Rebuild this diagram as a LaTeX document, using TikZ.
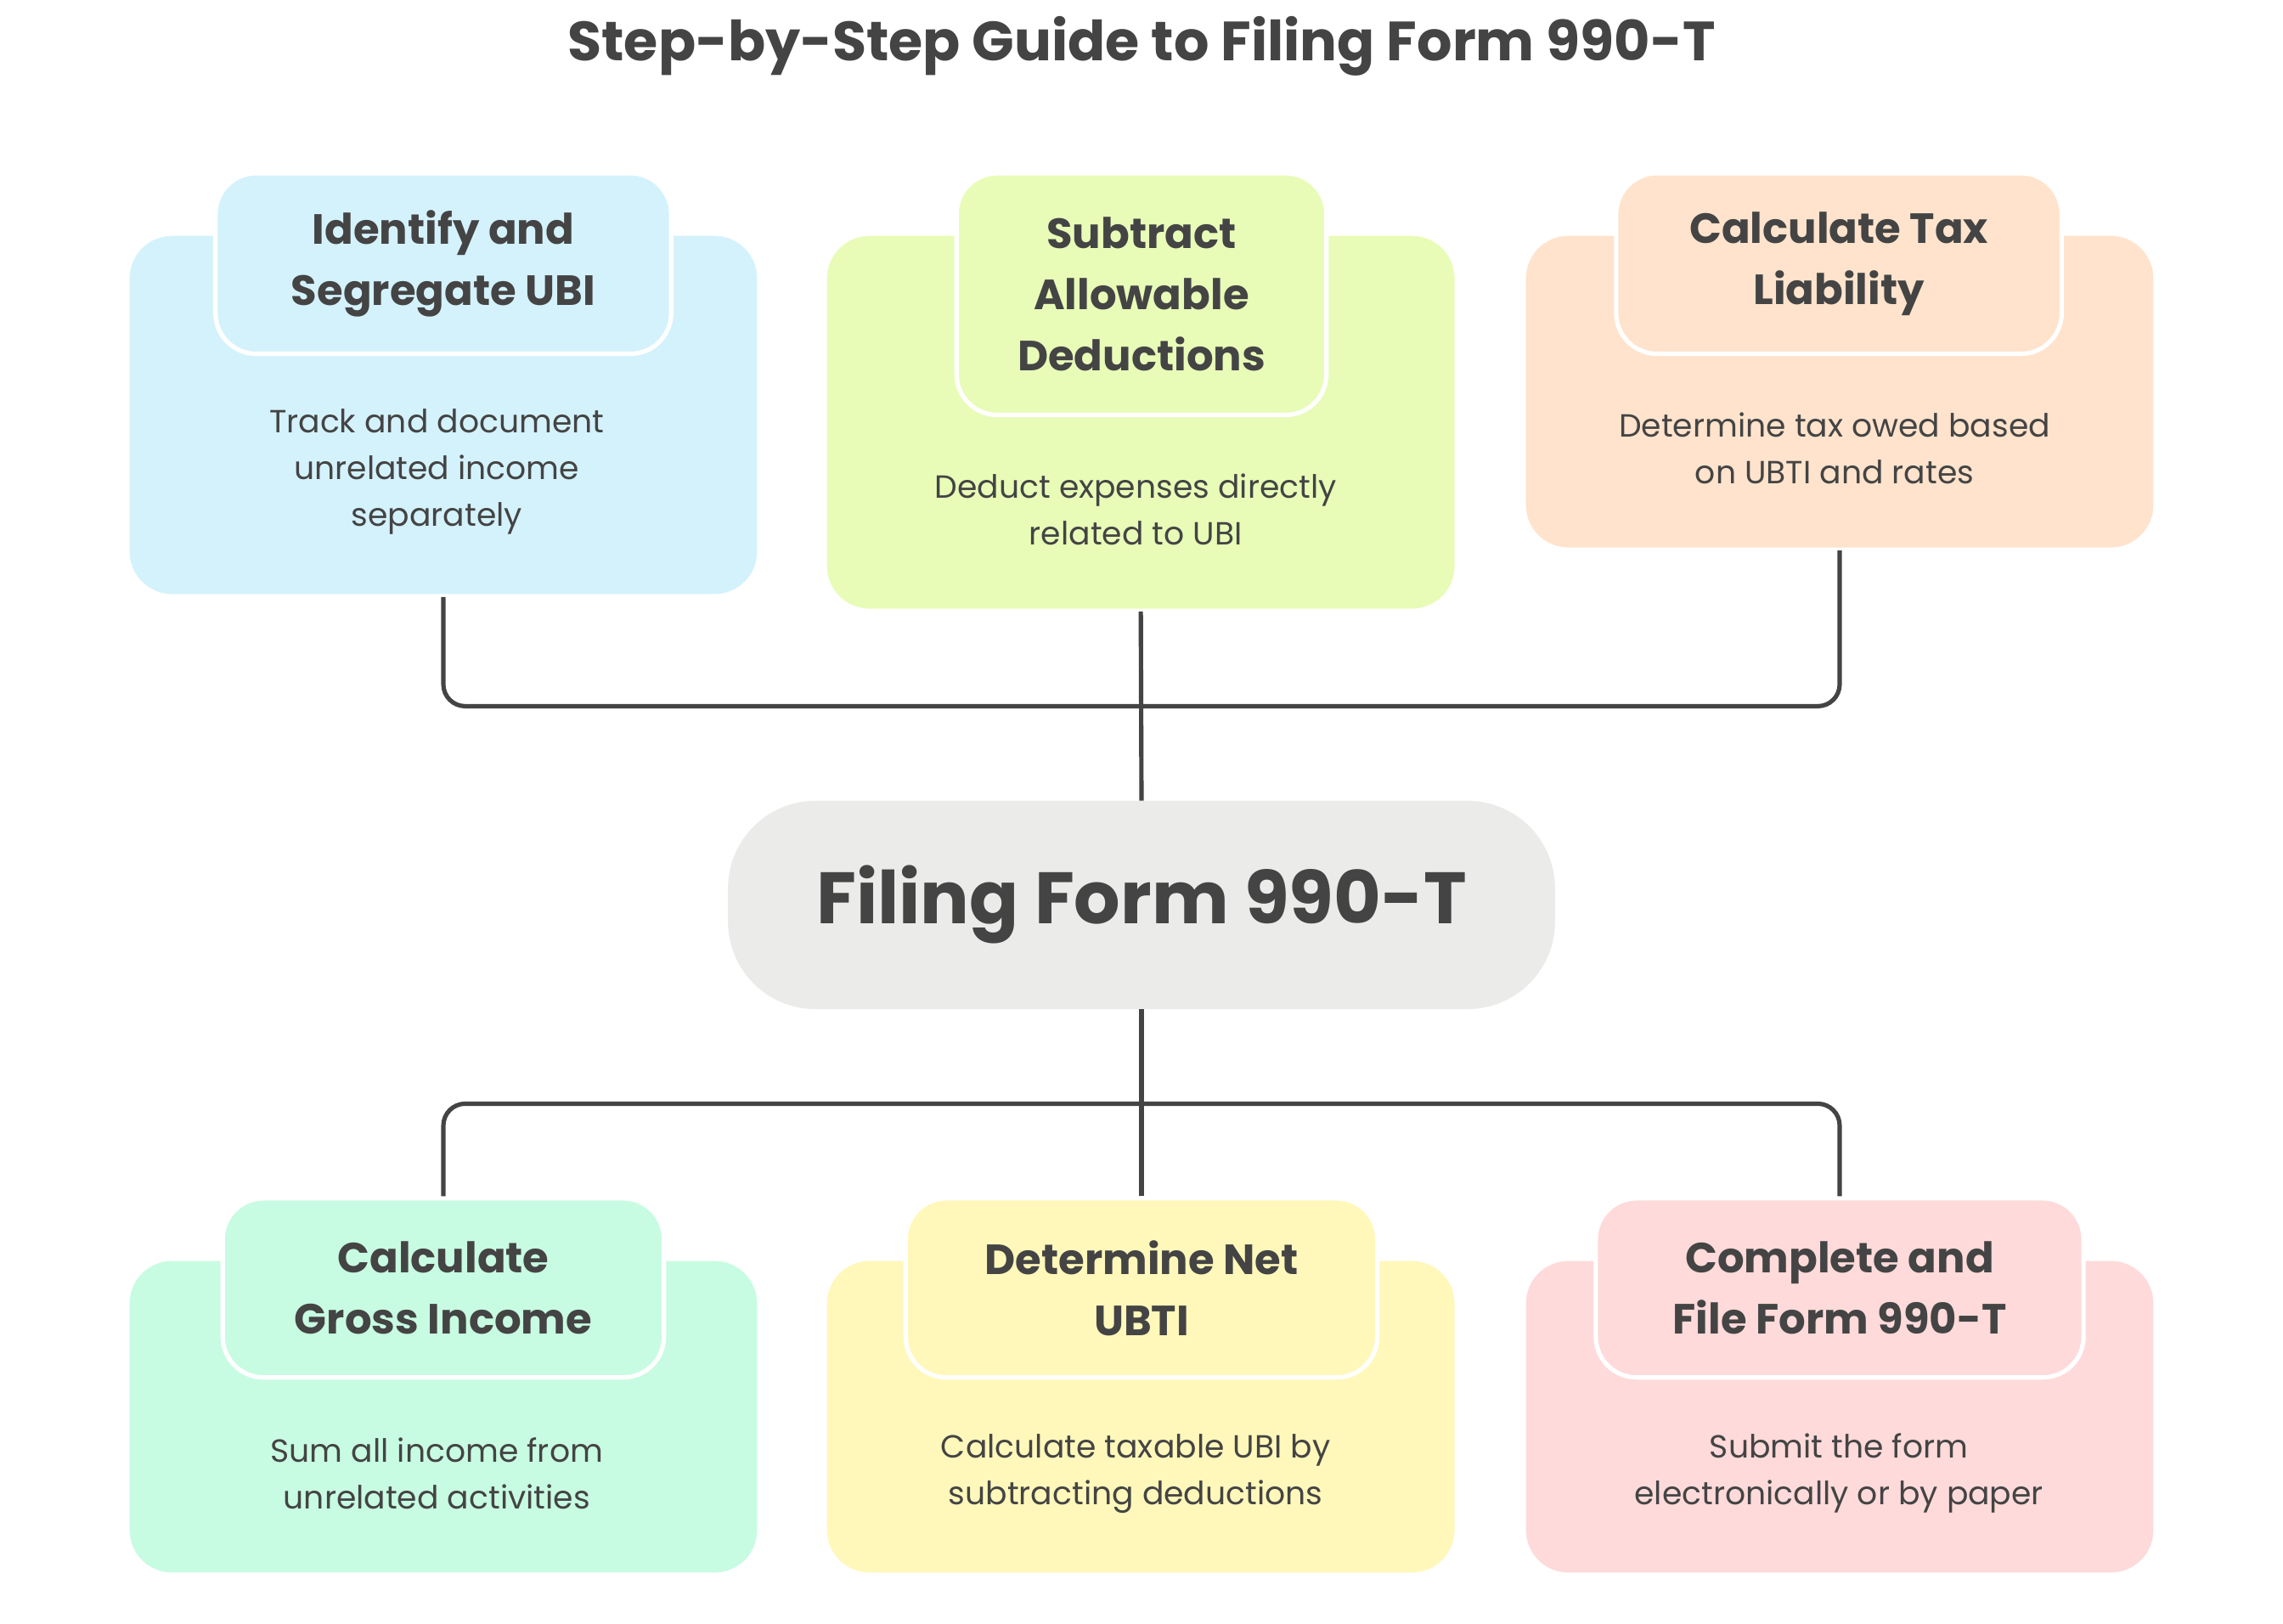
\documentclass[tikz,border=0pt]{standalone}
\usepackage{fontspec}
\setmainfont{Poppins}
\begin{document}
\begin{tikzpicture}[x=1pt,y=-1pt,
  box/.style={rounded corners=30pt,draw=white,line width=2pt,inner sep=0pt},
  tab/.style={rounded corners=28pt,draw=white,line width=3pt,align=center,text=txt,font=\fontsize{29}{42}\selectfont\bfseries,inner sep=0pt},
  body/.style={align=center,text=txt,font=\fontsize{22}{32}\selectfont},
  conn/.style={draw=txt,line width=3pt,rounded corners=15pt}]
\definecolor{txt}{HTML}{444444}
\definecolor{c1}{HTML}{D4F2FC}\definecolor{c2}{HTML}{E8FCB8}\definecolor{c3}{HTML}{FFE3CC}
\definecolor{c4}{HTML}{C8FCE2}\definecolor{c5}{HTML}{FFF8BA}\definecolor{c6}{HTML}{FFDADA}
\definecolor{cc}{HTML}{EBEBEA}
\useasboundingbox[fill=white] (0,0) rectangle (1568,1115);
\node[text=txt,font=\fontsize{38}{44}\selectfont\bfseries] (title) at (784,32) {Step-by-Step Guide to Filing Form 990-T};
% top
\node[box,fill=c1,minimum width=433pt,minimum height=248pt] (b1) at (304.5,285) {};
\node[tab,fill=c1,minimum width=313pt,minimum height=124pt] (t1) at (304.5,181) {Identify and\\Segregate UBI};
\node[body] (d1) at (300,324) {Track and document\\unrelated income\\separately};
\node[box,fill=c2,minimum width=433pt,minimum height=258pt] (b2) at (783.5,290) {};
\node[tab,fill=c2,minimum width=254pt,minimum height=166pt] (t2) at (784,202) {Subtract\\Allowable\\Deductions};
\node[body] (d2) at (780,350) {Deduct expenses directly\\related to UBI};
\node[box,fill=c3,minimum width=433pt,minimum height=216pt] (b3) at (1263.5,269) {};
\node[tab,fill=c3,minimum width=306pt,minimum height=124pt] (t3) at (1263,181) {Calculate Tax\\Liability};
\node[body] (d3) at (1260,308) {Determine tax owed based\\on UBTI and rates};
% center
\node[rounded corners=60pt,fill=cc,minimum width=568pt,minimum height=143pt,text=txt,font=\fontsize{50}{56}\selectfont\bfseries] (c) at (784,621.5) {Filing Form 990-T};
% bottom
\node[box,fill=c4,minimum width=433pt,minimum height=216pt] (b4) at (304.5,973) {};
\node[tab,fill=c4,minimum width=303pt,minimum height=123pt] (t4) at (304.5,884.5) {Calculate\\Gross Income};
\node[body] (d4) at (300,1012) {Sum all income from\\unrelated activities};
\node[box,fill=c5,minimum width=433pt,minimum height=216pt] (b5) at (783.5,973) {};
\node[tab,fill=c5,minimum width=324pt,minimum height=123pt] (t5) at (784,884.5) {Determine Net\\UBTI};
\node[body] (d5) at (780,1012) {Calculate taxable UBI by\\subtracting deductions};
\node[box,fill=c6,minimum width=433pt,minimum height=216pt] (b6) at (1263.5,973) {};
\node[tab,fill=c6,minimum width=335pt,minimum height=123pt] (t6) at (1263.5,884.5) {Complete and\\File Form 990-T};
\node[body] (d6) at (1263,1012) {Submit the form\\electronically or by paper};
% connectors
\coordinate (jt) at (784,485);
\coordinate (jb) at (784,758);
\draw[conn] (b1.south) |- (jt);
\draw[conn] (b3.south) |- (jt);
\draw[conn] (b2.south) -- (c.north);
\draw[conn] (c.south) -- (t5.north);
\draw[conn] (jb) -| (t4.north);
\draw[conn] (jb) -| (t6.north);
\end{tikzpicture}
\end{document}
